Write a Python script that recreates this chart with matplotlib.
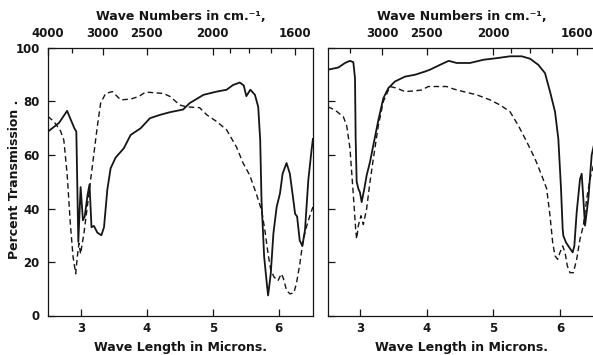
import numpy as np
import matplotlib
matplotlib.use("Agg")
import matplotlib.pyplot as plt

# --- data (wavelength in microns, percent transmission) ---
left_solid_x = [2.50, 2.667, 2.79, 2.90, 2.93, 2.96, 2.995, 3.03, 3.057, 3.10, 3.13, 3.16,
                3.197, 3.248, 3.31, 3.35, 3.40, 3.45, 3.525, 3.65, 3.754, 3.906, 4.047,
                4.20, 4.35, 4.55, 4.65, 4.86, 5.06, 5.21, 5.31, 5.41, 5.47, 5.51, 5.57,
                5.64, 5.69, 5.72, 5.74, 5.78, 5.82, 5.84, 5.88, 5.92, 5.97, 6.02, 6.06,
                6.12, 6.17, 6.21, 6.25, 6.28, 6.32, 6.36, 6.40, 6.45, 6.50, 6.52]
left_solid_t = [68.75, 72, 76.5, 70, 68.75, 27.5, 48, 35.6, 37, 45, 49, 33,
                33.5, 31, 30, 33, 47, 55, 59, 62.5, 67.5, 70, 73.75,
                75, 76, 77, 79.4, 82.5, 83.7, 84.4, 86.2, 87.1, 86, 82, 84.4,
                82.5, 78, 65.6, 43, 22, 12, 7.5, 15.6, 30.6, 40.6, 45.6, 53,
                57, 53, 45.6, 38, 37, 28, 26, 32, 50.6, 62, 66]

left_dash_x = [2.50, 2.59, 2.69, 2.74, 2.79, 2.84, 2.88, 2.92, 2.945, 2.97, 2.995, 3.02,
               3.045, 3.096, 3.146, 3.197, 3.248, 3.299, 3.374, 3.476, 3.526, 3.602,
               3.754, 3.88, 3.98, 4.05, 4.25, 4.35, 4.50, 4.60, 4.80, 4.91, 5.06, 5.21,
               5.36, 5.46, 5.56, 5.66, 5.74, 5.79, 5.84, 5.88, 5.93, 5.99, 6.04, 6.07,
               6.12, 6.17, 6.23, 6.27, 6.32, 6.37, 6.42, 6.47, 6.52]
left_dash_t = [74.4, 72.5, 69, 65.6, 53, 34, 22, 15.6, 22, 27, 23, 27,
               30.6, 40.6, 50.6, 60.6, 70.6, 79.4, 83, 83.7, 82.5, 80.6,
               80.9, 81.9, 83.5, 83.4, 83, 81.9, 78.7, 78, 77.7, 75, 72.5, 69.4,
               63, 57, 52.5, 45.6, 39.4, 32, 23, 17, 14.4, 13, 15.6, 14,
               9.4, 8.1, 8.4, 12, 19, 28, 33, 37, 40.6]

right_solid_x = [2.52, 2.675, 2.775, 2.85, 2.90, 2.925, 2.935, 2.95, 2.975, 3.0, 3.025,
                 3.065, 3.10, 3.15, 3.20, 3.275, 3.35, 3.425, 3.525, 3.675, 3.825,
                 3.975, 4.05, 4.20, 4.33, 4.45, 4.65, 4.85, 5.05, 5.25, 5.425, 5.55,
                 5.675, 5.775, 5.85, 5.925, 5.975, 6.015, 6.04, 6.05, 6.09, 6.14, 6.19,
                 6.215, 6.25, 6.30, 6.325, 6.35, 6.375, 6.425, 6.475, 6.52]
right_solid_t = [91.9, 92.7, 94.4, 95.2, 94.7, 88.7, 66, 50, 47.4, 46, 42.4,
                 47.4, 52.4, 57.4, 63.7, 73, 81.2, 85, 87.5, 89.3, 90,
                 91.2, 91.9, 93.7, 95.2, 94.4, 94.4, 95.6, 96.2, 96.9, 96.9, 96,
                 93.7, 90.6, 83.7, 76.2, 66, 47.4, 32.3, 29.8, 27.3, 25.4, 23.6,
                 26, 38.6, 51, 53, 43.6, 33.6, 43.6, 60, 65]

right_dash_x = [2.52, 2.625, 2.75, 2.80, 2.85, 2.90, 2.935, 2.95, 2.975, 3.015, 3.05,
                3.10, 3.15, 3.20, 3.275, 3.35, 3.45, 3.55, 3.675, 3.825, 3.925, 4.025,
                4.30, 4.40, 4.55, 4.75, 4.95, 5.10, 5.25, 5.375, 5.50, 5.625, 5.725,
                5.80, 5.85, 5.89, 5.925, 5.965, 6.0, 6.04, 6.075, 6.11, 6.15, 6.20,
                6.25, 6.30, 6.35, 6.40, 6.45, 6.50, 6.52]
right_dash_t = [78, 76.8, 74.3, 71, 62.4, 45, 32.3, 28.6, 33.6, 37.3, 34,
                40, 50, 58.6, 71, 80, 85.6, 85, 83.7, 84, 84.3, 85.6,
                85.6, 84.7, 83.7, 82.5, 80.6, 78.7, 76.2, 71, 65, 58.6, 52.4,
                47.4, 37.3, 27.3, 22.3, 21, 23.6, 26, 23.6, 18.5, 16, 16,
                21, 28.6, 33.6, 43.6, 51, 56, 58]

micron_ticks = [3, 4, 5, 6]
wavenumber_ticks = [4000, 3000, 2500, 2000, 1600]
wavenumber_minor = [3500, 1900, 1800, 1700]
percent_ticks = [0, 20, 40, 60, 80, 100]

ink = "#151515"
plt.rcParams["font.family"] = ["DejaVu Sans"]
plt.rcParams["font.weight"] = "bold"

fig = plt.figure(figsize=(5.93, 3.55), dpi=100)
W, H = 593.0, 355.0
top_px, bot_px = 48.0, 315.5


def make_panel(left_px, xmin, px_per_micron, show_labels):
    xmax = 6.52
    width_px = (xmax - xmin) * px_per_micron
    ax = fig.add_axes([left_px / W, 1 - bot_px / H, width_px / W, (bot_px - top_px) / H])
    ax.set_xlim(xmin, xmax)
    ax.set_ylim(0, 100)
    ax.set_xticks(micron_ticks)
    ax.set_xticklabels([str(t) for t in micron_ticks])
    ax.set_yticks(percent_ticks)
    if show_labels:
        ax.set_yticklabels([str(t) for t in percent_ticks])
    else:
        ax.set_yticklabels([])
    ax.tick_params(direction="in", length=5, width=0.9, color=ink, labelcolor=ink,
                   labelsize=8.5, pad=6)
    ax.tick_params(axis="x", pad=5)
    for s in ax.spines.values():
        s.set_linewidth(0.9)
        s.set_color(ink)

    # top wavenumber scale
    top = ax.twiny()
    top.set_xlim(xmin, xmax)
    shown = [w for w in wavenumber_ticks if xmin <= 1e4 / w <= xmax]
    top.set_xticks([1e4 / w for w in shown])
    top.set_xticklabels([str(w) for w in shown])
    top.set_xticks([1e4 / w for w in wavenumber_minor], minor=True)
    top.tick_params(direction="in", length=5, width=0.9, color=ink, labelcolor=ink,
                    labelsize=8.5, pad=6)
    top.tick_params(which="minor", direction="in", length=3.5, width=0.9, color=ink)
    for s in top.spines.values():
        s.set_visible(False)

    cx = (left_px + width_px / 2) / W
    fig.text(cx, 1 - 17 / H, "Wave Numbers in cm.\u207b\u00b9,", ha="center", va="center",
             fontsize=9, fontweight="bold", color=ink)
    fig.text(cx, 1 - 347 / H, "Wave Length in Microns.", ha="center", va="center",
             fontsize=9, fontweight="bold", color=ink)
    return ax


ax1 = make_panel(48.0, 2.50, 65.9, True)
ax1.plot(left_solid_x, left_solid_t, color=ink, lw=1.3, solid_joinstyle="round")
ax1.plot(left_dash_x, left_dash_t, color=ink, lw=1.0, dashes=(4, 2.5))

ax2 = make_panel(328.0, 2.52, 66.67, False)
ax2.plot(right_solid_x, right_solid_t, color=ink, lw=1.3, solid_joinstyle="round")
ax2.plot(right_dash_x, right_dash_t, color=ink, lw=1.0, dashes=(4, 2.5))

fig.text(15 / W, 1 - 179 / H, "Percent Transmission .", rotation=90, ha="center",
         va="center", fontsize=9, fontweight="bold", color=ink)

fig.savefig("out.png", dpi=100, facecolor="white")
